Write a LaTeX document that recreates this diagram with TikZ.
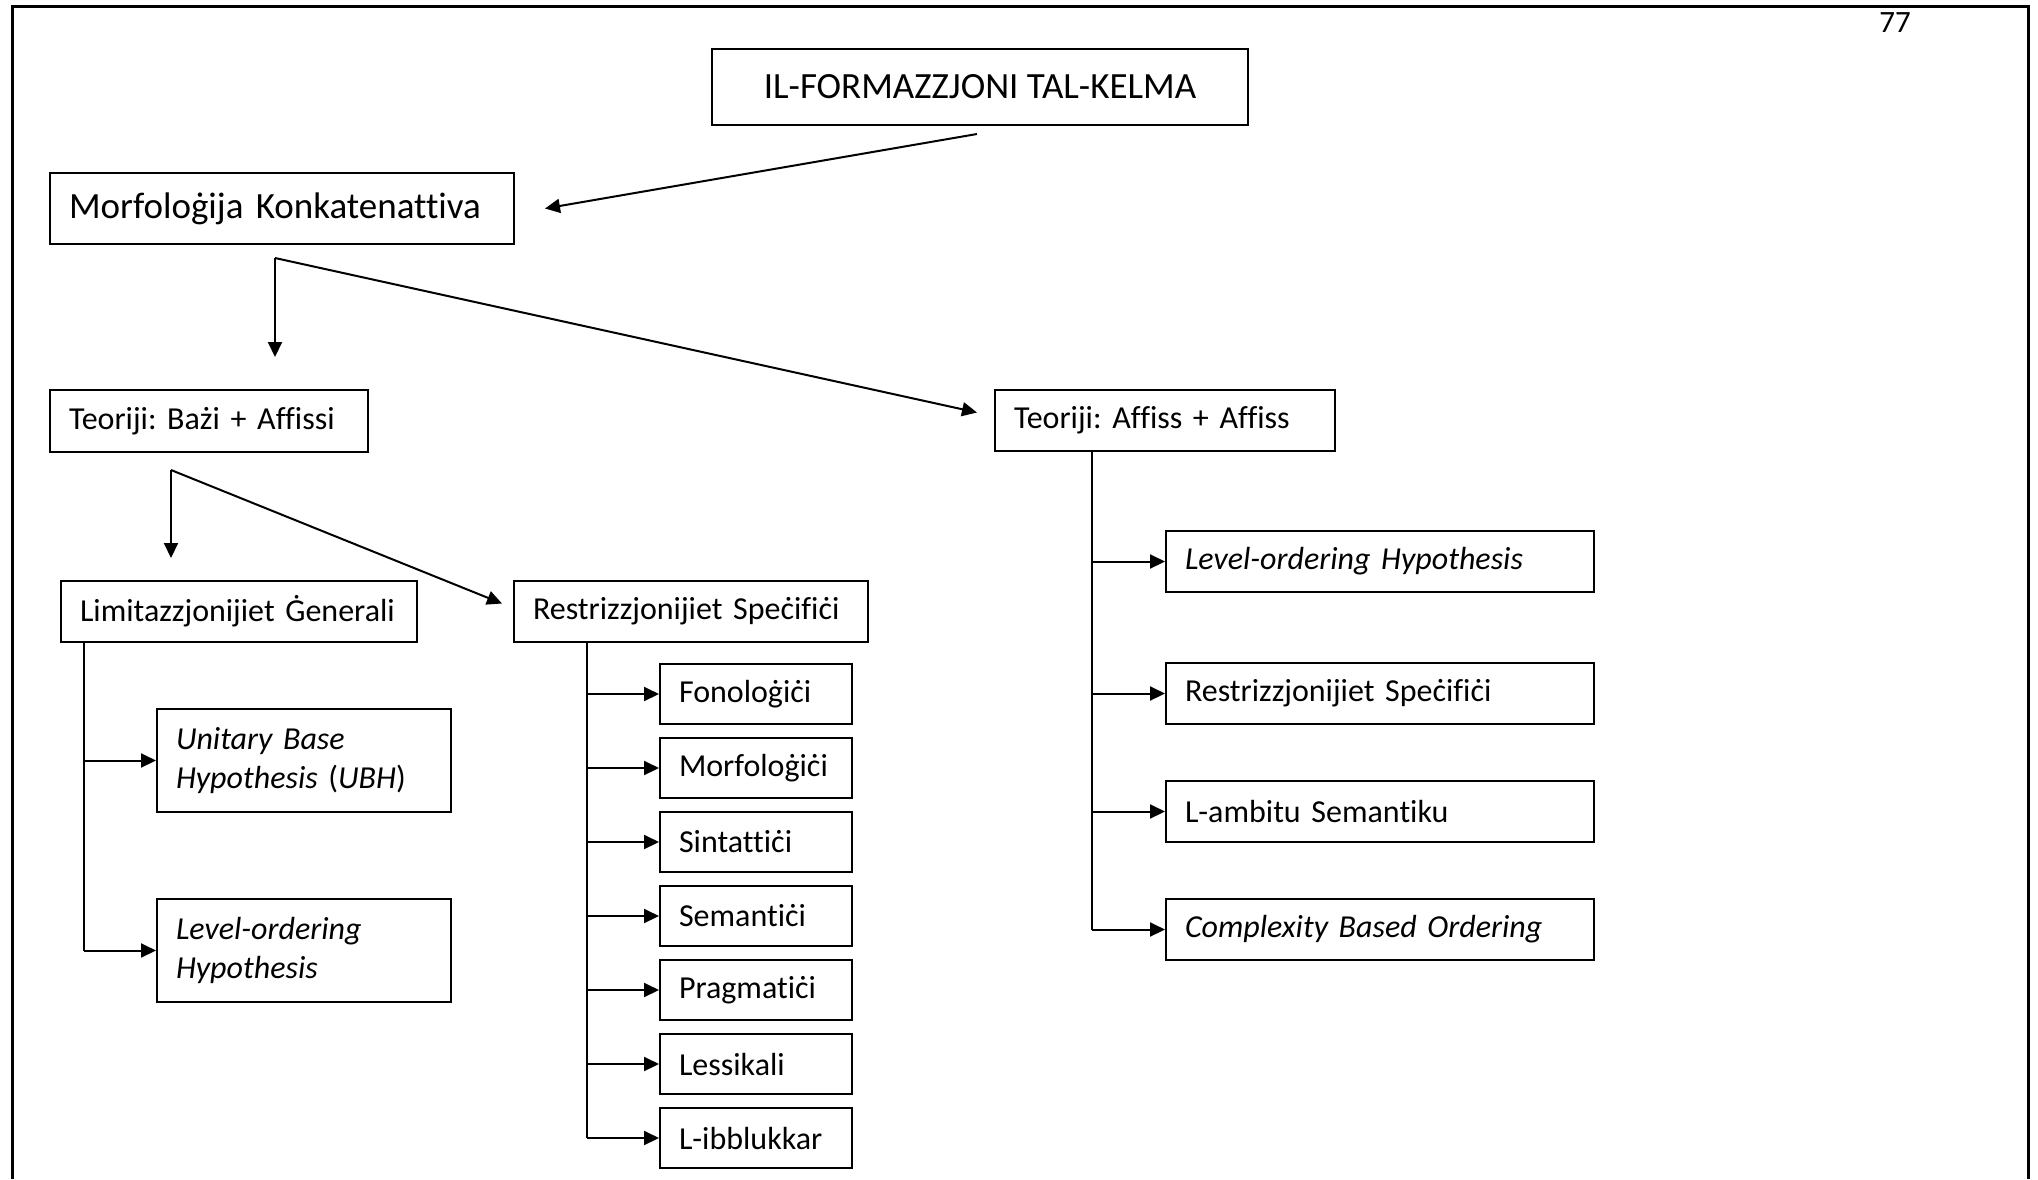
\documentclass[tikz,border=0pt]{standalone}
\usepackage{fontspec}
\setmainfont{Carlito}[Ligatures=NoCommon]
\usetikzlibrary{arrows.meta, positioning, calc}
\hyphenpenalty=10000
\exhyphenpenalty=10000
\frenchspacing

\begin{document}
\begin{tikzpicture}[
    x=1pt, y=-1pt,
    box/.style={draw, line width=2pt, anchor=north west, inner xsep=19pt, inner ysep=0pt, align=left, font=\fontsize{32}{39}\selectfont},
    big/.style={font=\fontsize{37}{44}\selectfont},
    small/.style={box, text width=154pt, minimum height=60pt},
    rbox/.style={box, text width=390pt, minimum height=61pt},
    arr/.style={line width=2pt, -{Triangle[length=15pt, width=14pt]}},
    link/.style={line width=2pt}
]
\useasboundingbox (0,0) rectangle (2038,1179);

% page frame and number
\draw[line width=3pt] (12,1179) -- (12,6) -- (2028,6) -- (2028,1179);
\node[font=\fontsize{31}{36}\selectfont] (pnum) at (1895,23) {77};

% top levels
\node[draw, line width=2pt, big, minimum width=536pt, minimum height=76pt] (title) at (980,87) {IL-FORMAZZJONI TAL-KELMA};
\node[box, big, text width=426pt, minimum height=71pt] (morf) at (49,172) {Morfoloġija Konkatenattiva};
\node[box, text width=280pt, minimum height=62pt] (baz) at (49,389) {Teoriji: Bażi + Affissi};
\node[box, text width=302pt, minimum height=61pt] (affiss) at (994,389) {Teoriji: Affiss + Affiss};
\node[box, text width=318pt, minimum height=61pt] (limit) at (60,580) {Limitazzjonijiet Ġenerali};
\node[box, text width=316pt, minimum height=61pt] (restr) at (513,580) {Restrizzjonijiet Speċifiċi};

% under Limitazzjonijiet
\node[box, text width=256pt, minimum height=103pt] (ubh) at (156,708) {\textit{Unitary Base}\\\textit{Hypothesis} (\textit{UBH})};
\node[box, text width=256pt, minimum height=103pt] (lvl) at (156,898) {\textit{Level-ordering}\\\textit{Hypothesis}};

% under Restrizzjonijiet
\foreach \name/\txt [count=\i from 0] in {fon/Fonoloġiċi, mor/Morfoloġiċi, sin/Sintattiċi, sem/Semantiċi, pra/Pragmatiċi, les/Lessikali, ibb/L-ibblukkar}
    \node[small] (\name) at (659,{663+74*\i}) {\txt};

% under Affiss + Affiss
\foreach \name/\yy/\txt in {rlvl/530/\textit{Level-ordering Hypothesis}, rres/662/Restrizzjonijiet Speċifiċi, amb/780/L-ambitu Semantiku, cpx/898/\textit{Complexity Based Ordering}}
    \node[rbox] (\name) at (1165,\yy) {\txt};

% arrows
\draw[arr] ([shift={(-3pt,-8pt)}]title.south) -- ([xshift=30pt]morf.east);

\coordinate (msplit) at ([shift={(-7pt,-13pt)}]morf.south);
\draw[arr] (msplit) -- ($(msplit |- baz.north)+(0,-32)$);
\draw[arr] (msplit) -- ([shift={(-17pt,8pt)}]affiss.west);

\coordinate (bsplit) at ([shift={(-38pt,-17pt)}]baz.south);
\draw[arr] (bsplit) -- ($(bsplit |- limit.north)+(0,-22)$);
\draw[arr] (bsplit) -- ([shift={(-11pt,8pt)}]restr.west);

% trees
\coordinate (ltop) at ([xshift=24pt]limit.south west);
\draw[link] (ltop) -- (ltop |- lvl.west);
\foreach \name in {ubh, lvl}
    \draw[arr] (ltop |- \name.west) -- (\name.west);

\coordinate (rtop) at ([xshift=74pt]restr.south west);
\draw[link] (rtop) -- (rtop |- ibb.west);
\foreach \name in {fon, mor, sin, sem, pra, les, ibb}
    \draw[arr] (rtop |- \name.west) -- (\name.west);

\coordinate (atop) at ([xshift=98pt]affiss.south west);
\draw[link] (atop) -- (atop |- cpx.west);
\foreach \name in {rlvl, rres, amb, cpx}
    \draw[arr] (atop |- \name.west) -- (\name.west);

\end{tikzpicture}
\end{document}
